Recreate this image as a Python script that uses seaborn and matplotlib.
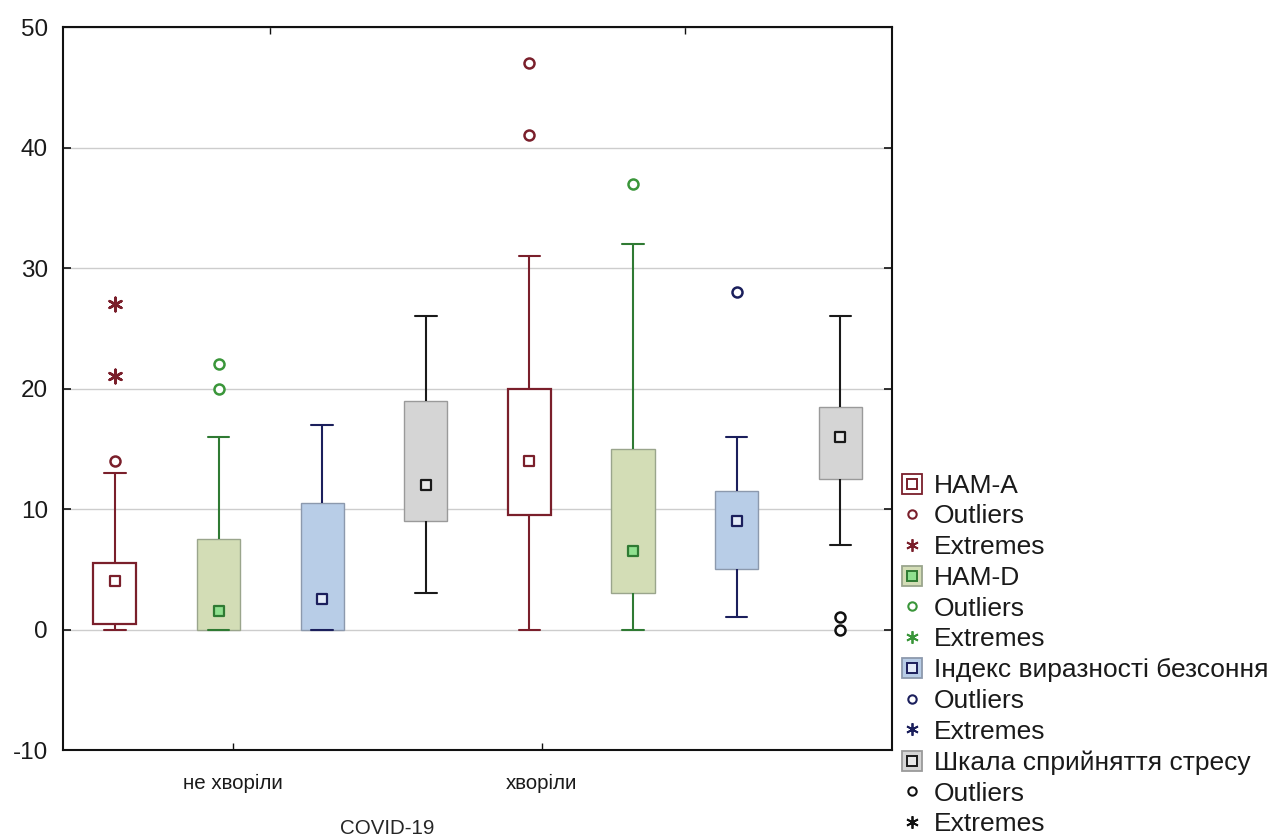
import numpy as np
import pandas as pd
import matplotlib
matplotlib.use("Agg")
import matplotlib.pyplot as plt
from matplotlib import font_manager
from matplotlib.lines import Line2D
import seaborn as sns

# ---- data -------------------------------------------------------------
groups = ["не хворіли", "хворіли"]
scales = ["HAM-A", "HAM-D", "Індекс виразності безсоння", "Шкала сприйняття стресу"]

# one row per scale, one column per group (order of `groups`)
whisker_low = [[0, 0], [0, 0], [0, 1], [3, 7]]
quartile_1 = [[0.5, 9.5], [0, 3], [0, 5], [9, 12.5]]
medians = [[4, 14], [1.5, 6.5], [2.5, 9], [12, 16]]
quartile_3 = [[5.5, 20], [7.5, 15], [10.5, 11.5], [19, 18.5]]
whisker_high = [[13, 31], [16, 32], [17, 16], [26, 26]]
outliers = [[[14], [41, 47]], [[20, 22], [37]], [[], [28]], [[], [0, 1]]]
extremes = [[[21, 27], []], [[], []], [[], []], [[], []]]

y_ticks = [-10, 0, 10, 20, 30, 40, 50]
axis_title = "COVID-19"

# ---- styling ----------------------------------------------------------
line_colors = ["#7a1f2b", "#2f7a33", "#1b1f5c", "#1a1a1a"]
box_fills = ["#ffffff", "#d3ddb6", "#b8cde7", "#d5d5d5"]
box_edges = ["#7a1f2b", "#9aa58c", "#8c99ad", "#9a9a9a"]
box_widths = [1.6, 1.0, 1.0, 1.0]
median_faces = ["#ffffff", "#8fe08f", "#e3ebf8", "#e8e8e8"]
point_colors = ["#7a1f2b", "#3a963a", "#1b1f5c", "#111111"]

sns.set_style("white")
plt.rcParams["font.family"] = ["Liberation Sans", "DejaVu Sans"]
plt.rcParams["axes.unicode_minus"] = False

installed = {f.name for f in font_manager.fontManager.ttflist}
if "Liberation Sans Narrow" in installed:
    axis_font = {"family": ["Liberation Sans Narrow", "DejaVu Sans"], "size": 18}
else:
    axis_font = {"family": ["Liberation Sans", "DejaVu Sans"], "size": 14.8}

fig = plt.figure(figsize=(12.79, 8.40), dpi=100)
ax = fig.add_axes([0.0493, 0.1071, 0.6482, 0.8607])

slot_step = 0.25
n_scales = len(scales)


def slot(gi, si):
    return gi + (si - (n_scales - 1) / 2) * slot_step


# ---- boxes (five-number summaries, whiskers at min/max) ---------------
for si, scale in enumerate(scales):
    rows = []
    for gi in range(len(groups)):
        for v in (whisker_low[si][gi], quartile_1[si][gi], medians[si][gi],
                  quartile_3[si][gi], whisker_high[si][gi]):
            rows.append({"pos": slot(gi, si), "value": v})
    sub = pd.DataFrame(rows)
    sns.boxplot(
        data=sub, x="pos", y="value", native_scale=True, orient="x",
        width=0.104, whis=np.inf, showfliers=False, saturation=1,
        color=box_fills[si], linecolor=line_colors[si], linewidth=1.5,
        boxprops={"edgecolor": box_edges[si], "linewidth": box_widths[si]},
        medianprops={"visible": False},
        ax=ax,
    )

    med = pd.DataFrame({
        "pos": [slot(gi, si) for gi in range(len(groups))],
        "median": medians[si],
    })
    sns.scatterplot(data=med, x="pos", y="median", marker="s", s=55,
                    color=median_faces[si], edgecolor=line_colors[si],
                    linewidth=1.6, zorder=5, legend=False, ax=ax)

    out_pos, out_val = [], []
    ext_pos, ext_val = [], []
    for gi in range(len(groups)):
        for v in outliers[si][gi]:
            out_pos.append(slot(gi, si))
            out_val.append(v)
        for v in extremes[si][gi]:
            ext_pos.append(slot(gi, si))
            ext_val.append(v)
    if out_val:
        sns.scatterplot(x=out_pos, y=out_val, marker="o", s=52,
                        color="white", edgecolor=point_colors[si],
                        linewidth=1.8, zorder=5, legend=False, ax=ax)
    if ext_val:
        sns.scatterplot(x=ext_pos, y=ext_val, marker=(6, 2, 0), s=95,
                        color=point_colors[si], linewidth=1.8, zorder=5,
                        legend=False, ax=ax)

# ---- axes -------------------------------------------------------------
ax.set_xlim(-0.5, len(groups) - 0.5)
ax.set_ylim(y_ticks[0], y_ticks[-1])
ax.set_yticks(y_ticks)
ax.set_yticklabels([str(t) for t in y_ticks], fontsize=17.5)
ax.yaxis.grid(True, color="#cdcdcd", linewidth=1.0)
ax.xaxis.grid(False)
ax.set_axisbelow(True)

label_positions = [-0.09, 0.655]
ax.set_xticks(label_positions)
ax.set_xticklabels(groups, fontdict=axis_font)
ax.set_xlabel(axis_title, fontdict=axis_font)
ax.xaxis.set_label_coords(0.391, -0.108)
ax.xaxis.label.set_va("center")
ax.set_ylabel("")

for sp in ax.spines.values():
    sp.set_visible(True)
    sp.set_color("#111111")
    sp.set_linewidth(1.5)

ax.tick_params(axis="y", direction="in", length=6, width=1.2, color="#111111",
               left=True, right=True, pad=11, labelcolor="#1a1a1a")
ax.tick_params(axis="x", direction="in", length=5, width=1.0, color="#111111",
               bottom=True, pad=17, labelcolor="#1a1a1a")

top = ax.secondary_xaxis("top")
top.set_xticks(range(len(groups)))
top.set_xticklabels([])
top.tick_params(direction="in", length=5, width=1.0, color="#111111")

# ---- legend -----------------------------------------------------------
handles, labels = [], []
for si, scale in enumerate(scales):
    box_h = Line2D([], [], ls="none", marker="s", markersize=14,
                   markerfacecolor=box_fills[si], markeredgecolor=box_edges[si],
                   markeredgewidth=1.3)
    med_h = Line2D([], [], ls="none", marker="s", markersize=6.5,
                   markerfacecolor=median_faces[si],
                   markeredgecolor=line_colors[si], markeredgewidth=1.4)
    handles.append((box_h, med_h))
    labels.append(scale)
    handles.append(Line2D([], [], ls="none", marker="o", markersize=6,
                          markerfacecolor="white",
                          markeredgecolor=point_colors[si],
                          markeredgewidth=1.5))
    labels.append("Outliers")
    handles.append(Line2D([], [], ls="none", marker=(6, 2, 0), markersize=9,
                          color=point_colors[si], markeredgewidth=1.3))
    labels.append("Extremes")

fig.legend(handles, labels, loc="upper left", bbox_to_anchor=(0.7045, 0.436),
           frameon=False, borderpad=0, borderaxespad=0, fontsize=19,
           labelspacing=0.255, handlelength=0.85, handletextpad=0.4,
           labelcolor="#1a1a1a")

fig.savefig("out.png", dpi=100)
